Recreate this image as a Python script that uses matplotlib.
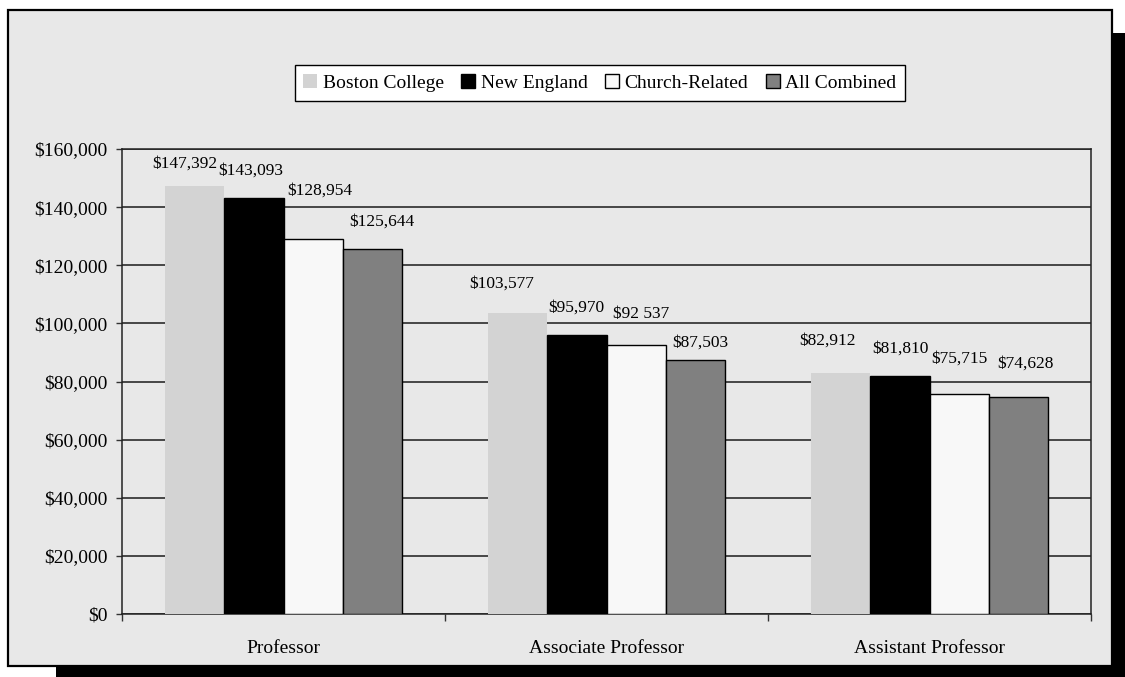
import matplotlib
matplotlib.use("Agg")
import matplotlib.pyplot as plt
from matplotlib.patches import Rectangle
from matplotlib.ticker import StrMethodFormatter
import numpy as np

plt.rcParams['font.family'] = ['Liberation Serif', 'DejaVu Serif']

categories = ["Professor", "Associate Professor", "Assistant Professor"]
series_names = ["Boston College", "New England", "Church-Related", "All Combined"]
boston_college = [147392, 103577, 82912]
new_england = [143093, 95970, 81810]
church_related = [128954, 92537, 75715]
all_combined = [125644, 87503, 74628]
label_text = [
    ["$147,392", "$103,577", "$82,912"],
    ["$143,093", "$95,970", "$81,810"],
    ["$128,954", "$92 537", "$75,715"],
    ["$125,644", "$87,503", "$74,628"],
]

# label nudges in pixels (dx, dy above the bar top), per series then category
label_offsets = [
    [(-10, 22), (-16, 29), (-13, 32)],
    [(-3, 27), (-1, 27), (0, 28)],
    [(7, 49), (5, 31), (0, 35)],
    [(10, 27), (5, 17), (7, 33)],
]

bar_colors = ["#D3D3D3", "#000000", "#F8F8F8", "#808080"]
edge_colors = ["none", "#000000", "#000000", "#000000"]
bg = "#E8E8E8"

fig = plt.figure(figsize=(11.25, 6.77), dpi=100, facecolor="white")

# drop shadow + framed panel
fig.patches.append(Rectangle((56 / 1125, 0), 1 - 56 / 1125, 1 - 33 / 677,
                             transform=fig.transFigure, facecolor="black",
                             edgecolor="none", zorder=-10))
fig.patches.append(Rectangle((8 / 1125, 1 - 666 / 677), 1104 / 1125, 656 / 677,
                             transform=fig.transFigure, facecolor=bg,
                             edgecolor="black", linewidth=1.6, zorder=-9))

ax = fig.add_axes([122 / 1125, 1 - 614 / 677, (1091 - 122) / 1125, (614 - 149) / 677])
ax.set_facecolor(bg)

x = np.arange(len(categories))
width = 0.183
all_series = [boston_college, new_england, church_related, all_combined]
for i, vals in enumerate(all_series):
    pos = x + (i - 1.5) * width
    ax.bar(pos, vals, width, color=bar_colors[i], edgecolor=edge_colors[i],
           linewidth=1.0, label=series_names[i], zorder=3)
    for j, v in enumerate(vals):
        dx, dy = label_offsets[i][j]
        ax.annotate(label_text[i][j], (pos[j], v), xytext=(dx, dy),
                    textcoords="offset pixels", ha="center", va="center",
                    fontsize=12.5, zorder=4)

ax.set_xlim(-0.5, 2.5)
ax.set_ylim(0, 160000)
ax.set_yticks(np.arange(0, 160001, 20000))
ax.yaxis.set_major_formatter(StrMethodFormatter("${x:,.0f}"))
ax.grid(axis="y", color="#1a1a1a", linewidth=1.1, zorder=0)
ax.set_axisbelow(True)

ax.set_xticks(x)
ax.set_xticklabels(categories)
ax.set_xticks([-0.5, 0.5, 1.5, 2.5], minor=True)
ax.tick_params(axis="x", which="major", length=0, pad=19, labelsize=14)
ax.tick_params(axis="x", which="minor", length=5, width=1.0, color="#333333")
ax.tick_params(axis="y", length=4.5, width=1.0, pad=6, labelsize=14, color="#333333")

for s in ax.spines.values():
    s.set_color("#222222")
    s.set_linewidth(1.1)

fig.legend(loc="center", bbox_to_anchor=(600 / 1125, 1 - 83 / 677), ncol=4,
           fontsize=14, frameon=True, fancybox=False, edgecolor="black",
           facecolor="white", framealpha=1, handlelength=0.7, handleheight=0.7,
           handletextpad=0.3, columnspacing=0.9, borderpad=0.45,
           borderaxespad=0)

fig.savefig("out.png", dpi=100, facecolor="white")
